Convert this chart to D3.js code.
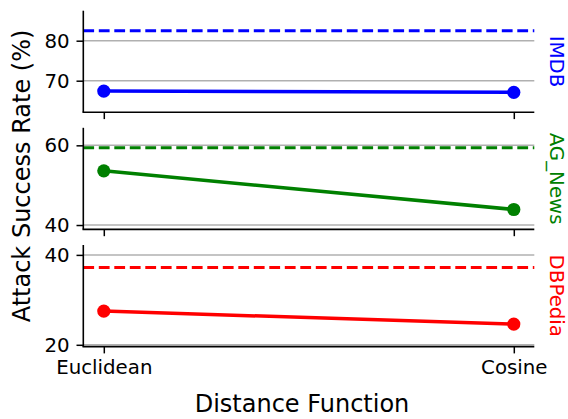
<!DOCTYPE html>
<html>
<head>
<meta charset="utf-8">
<script src="https://cdn.jsdelivr.net/npm/d3@7/dist/d3.min.js"></script>
<style>
  html, body { margin: 0; padding: 0; background: #fff; }
  svg { display: block; font-family: "DejaVu Sans", sans-serif; }
</style>
</head>
<body>
<svg id="chart" width="568" height="419"></svg>
<script>
// Distance functions on the shared x axis
const categories = ["Euclidean", "Cosine"];

// One panel per dataset
const datasets = ["IMDB", "AG_News", "DBPedia"];
const colors = ["#0000ff", "#008000", "#ff0000"];

// Attack success rate (%) for each distance function
const imdbValues = [67.4, 67.1];
const agNewsValues = [53.6, 43.9];
const dbpediaValues = [27.5, 24.6];

// Reference (dashed) rate per dataset
const baselines = [82.5, 59.4, 37.2];

// Y tick labels per panel
const imdbTicks = [70, 80];
const agNewsTicks = [40, 60];
const dbpediaTicks = [20, 40];

const seriesValues = [imdbValues, agNewsValues, dbpediaValues];
const tickSets = [imdbTicks, agNewsTicks, dbpediaTicks];

const svg = d3.select("#chart");

const left = 83.3, right = 534.3;
const panelTops = [10.7, 127.8, 245];
const panelH = 101.6;
const tickLen = 6.8, tickPad = 6.8;
const tickFont = "19.8px";
const titleFont = "24px";

const x = d3.scalePoint().domain(categories).range([left, right]).padding(0.05);

datasets.forEach((name, i) => {
  const top = panelTops[i], bottom = top + panelH;
  const vals = seriesValues[i];
  const color = colors[i];
  const y = d3.scaleLinear()
    .domain([d3.min(vals) - 5, baselines[i] + 5])
    .range([bottom, top]);

  const g = svg.append("g");

  // horizontal gridlines at tick values
  g.append("g").selectAll("line").data(tickSets[i]).join("line")
    .attr("x1", left).attr("x2", right)
    .attr("y1", d => y(d)).attr("y2", d => y(d))
    .attr("stroke", "#b0b0b0").attr("stroke-width", 1.5);

  // dashed reference line
  g.append("line")
    .attr("x1", left).attr("x2", right)
    .attr("y1", y(baselines[i])).attr("y2", y(baselines[i]))
    .attr("stroke", color).attr("stroke-width", 3)
    .attr("stroke-dasharray", "10.8,4.7");

  // series line
  const line = d3.line().x((d, j) => x(categories[j])).y(d => y(d));
  g.append("path").datum(vals)
    .attr("d", line)
    .attr("fill", "none")
    .attr("stroke", color)
    .attr("stroke-width", 3.5);

  // markers
  g.append("g").selectAll("circle").data(vals).join("circle")
    .attr("cx", (d, j) => x(categories[j]))
    .attr("cy", d => y(d))
    .attr("r", 6.6)
    .attr("fill", color);

  // y axis
  const yAxis = d3.axisLeft(y).tickValues(tickSets[i]).tickSize(tickLen).tickPadding(tickPad);
  const ya = g.append("g").attr("transform", `translate(${left},0)`).call(yAxis);
  ya.select(".domain").remove();
  ya.selectAll(".tick line").attr("stroke", "#000").attr("stroke-width", 1.5);
  ya.selectAll(".tick text").attr("fill", "#000")
    .style("font-size", tickFont).style("font-family", "DejaVu Sans, sans-serif");

  // x axis (labels only on the bottom panel)
  const xAxis = d3.axisBottom(x).tickSize(tickLen).tickPadding(tickPad);
  const xa = g.append("g").attr("transform", `translate(0,${bottom})`).call(xAxis);
  xa.select(".domain").remove();
  xa.selectAll(".tick line").attr("stroke", "#000").attr("stroke-width", 1.5);
  xa.selectAll(".tick text").attr("fill", "#000")
    .style("font-size", tickFont).style("font-family", "DejaVu Sans, sans-serif");
  if (i < datasets.length - 1) xa.selectAll(".tick text").remove();

  // left and bottom spines
  g.append("line").attr("x1", left).attr("x2", left).attr("y1", top).attr("y2", bottom)
    .attr("stroke", "#000").attr("stroke-width", 1.6);
  g.append("line").attr("x1", left - 0.8).attr("x2", right).attr("y1", bottom).attr("y2", bottom)
    .attr("stroke", "#000").attr("stroke-width", 1.6);

  // dataset name on the right
  const cy = (top + bottom) / 2;
  g.append("text")
    .attr("transform", `translate(549.5,${cy}) rotate(90)`)
    .attr("text-anchor", "middle")
    .attr("fill", color)
    .style("font-size", tickFont)
    .text(name);
});

// axis titles
svg.append("text")
  .attr("x", 302).attr("y", 411.7)
  .attr("text-anchor", "middle")
  .style("font-size", titleFont)
  .text("Distance Function");

svg.append("text")
  .attr("transform", `translate(30,176) rotate(-90)`)
  .attr("text-anchor", "middle")
  .style("font-size", titleFont)
  .text("Attack Success Rate (%)");
</script>
</body>
</html>
